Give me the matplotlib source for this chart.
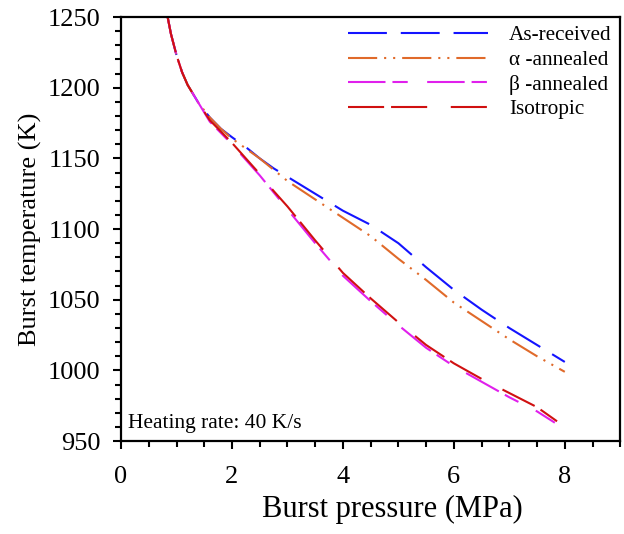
import matplotlib
matplotlib.use("Agg")
import matplotlib.pyplot as plt
from matplotlib.ticker import MultipleLocator

# values
p_received = [0.84, 0.90, 1.00, 1.10, 1.20, 1.40, 1.60, 1.80, 2.00, 2.25, 2.50, 2.75, 3.00,
              3.50, 4.00, 4.50, 5.00, 5.50, 6.00, 6.50, 7.00, 7.50, 8.00]
t_received = [1250, 1238, 1223, 1211, 1202, 1189, 1179, 1171, 1165, 1158, 1150, 1143, 1137,
              1125, 1113, 1103, 1090, 1073, 1057, 1043, 1030, 1018, 1006]

p_alpha = [0.84, 0.90, 1.00, 1.10, 1.20, 1.40, 1.60, 1.80, 2.00, 2.25, 2.50, 2.75, 3.00,
           3.50, 4.00, 4.50, 5.00, 5.50, 6.00, 6.50, 7.00, 7.50, 8.00]
t_alpha = [1250, 1238, 1223, 1211, 1202, 1189, 1179, 1171, 1164, 1157, 1150, 1142, 1134,
           1121, 1108, 1095, 1079, 1064, 1048, 1035, 1022, 1010, 999]

p_beta = [0.84, 0.90, 1.00, 1.10, 1.20, 1.40, 1.60, 1.80, 2.00, 2.25, 2.50, 2.75, 3.00,
          3.50, 4.00, 4.50, 5.00, 5.50, 6.00, 6.50, 7.00, 7.50, 7.82]
t_beta = [1250, 1238, 1223, 1211, 1202, 1189, 1176, 1168, 1160, 1149, 1138, 1126, 1114,
          1090, 1067, 1049, 1032, 1016, 1003, 992, 981, 971, 963]

p_iso = [0.84, 0.90, 1.00, 1.10, 1.20, 1.40, 1.60, 1.80, 2.00, 2.25, 2.50, 2.75, 3.00,
         3.50, 4.00, 4.50, 5.00, 5.50, 6.00, 6.50, 7.00, 7.50, 7.86]
t_iso = [1250, 1238, 1223, 1211, 1202, 1189, 1177, 1169, 1161, 1150, 1139, 1127, 1116,
         1092, 1069, 1051, 1034, 1018, 1005, 994, 984, 974, 964]

labels = ["As-received", "\u03b1 -annealed", "\u03b2 -annealed", "Isotropic"]


def main():
    plt.rcParams["font.family"] = ["Liberation Serif", "DejaVu Serif"]
    plt.rcParams["lines.scale_dashes"] = False

    fig = plt.figure(figsize=(6.24, 5.34), dpi=100)
    ax = fig.add_axes([0.194, 0.174, 0.8, 0.794])

    ax.plot(p_received, t_received, color="#1414ff", lw=1.5,
            dashes=(28, 10), label=labels[0])
    ax.plot(p_alpha, t_alpha, color="#e06a2a", lw=1.5,
            dashes=(21, 5, 1.5, 5, 1.5, 5), label=labels[1])
    ax.plot(p_beta, t_beta, color="#e020ec", lw=1.5,
            dashes=(27, 5, 11, 14), label=labels[2])
    ax.plot(p_iso, t_iso, color="#d01010", lw=1.5,
            dashes=(26, 5, 26, 17), label=labels[3])

    ax.set_xlim(0, 9)
    ax.set_ylim(950, 1250)
    ax.xaxis.set_major_locator(MultipleLocator(2))
    ax.xaxis.set_minor_locator(MultipleLocator(0.5))
    ax.yaxis.set_major_locator(MultipleLocator(50))
    ax.yaxis.set_minor_locator(MultipleLocator(10))
    ax.tick_params(which="both", direction="out", top=False, right=False,
                   labelsize=19, width=1.5)
    ax.tick_params(which="major", length=6)
    ax.tick_params(which="minor", length=4)
    ax.tick_params(axis="x", which="major", pad=12)
    ax.tick_params(axis="y", which="major", pad=9)
    for s in ax.spines.values():
        s.set_linewidth(1.6)

    ax.set_xlabel("Burst pressure (MPa)", fontsize=22)
    ax.xaxis.set_label_coords(0.543, -0.128)
    ax.set_ylabel("Burst temperature (K)", fontsize=19, labelpad=4)

    ax.text(0.014, 0.018, "Heating rate: 40 K/s", transform=ax.transAxes,
            fontsize=15.5, ha="left", va="bottom")

    ax.legend(loc="upper right", frameon=False, fontsize=15.3, handlelength=6.6,
              handletextpad=1.0, labelspacing=0.22, borderaxespad=0.0,
              bbox_to_anchor=(1.0, 1.0))

    fig.savefig("out.png", dpi=100)


if __name__ == "__main__":
    main()
